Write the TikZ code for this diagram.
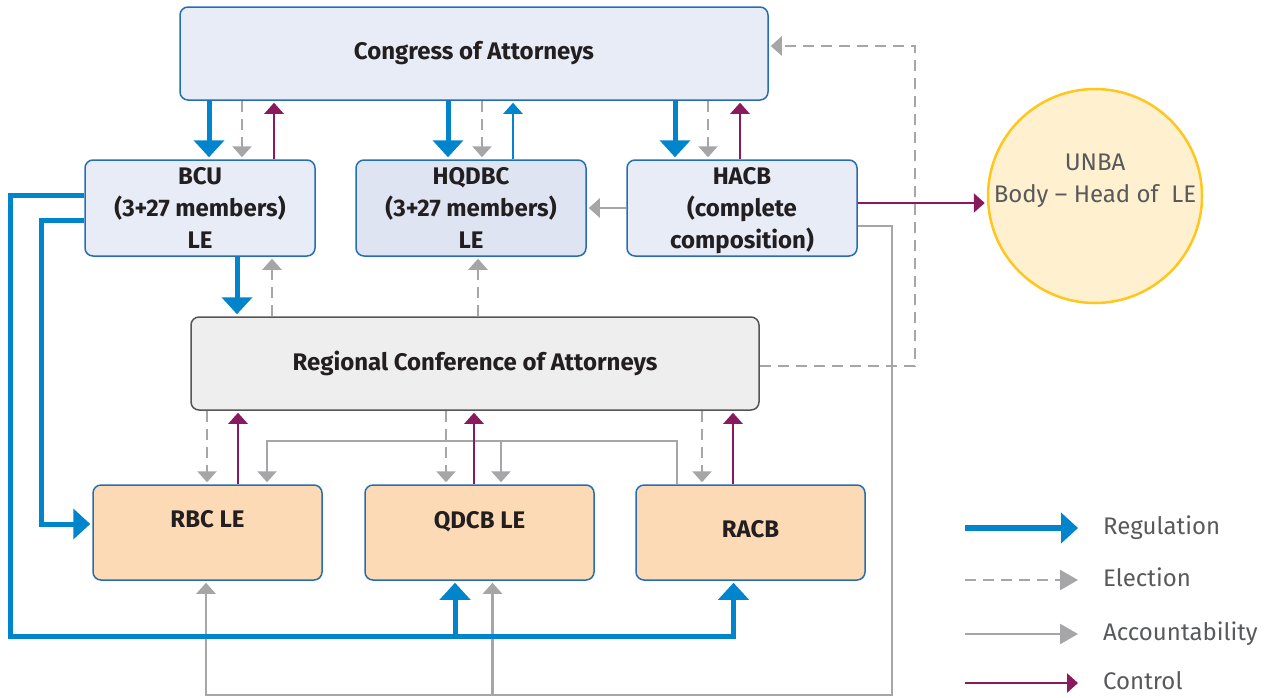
\documentclass[tikz,border=0pt]{standalone}
\usepackage{fontspec}
\setmainfont{Fira Sans}
\usepackage{xcolor}
\usetikzlibrary{arrows.meta}

\definecolor{regblue}{RGB}{0,133,204}
\definecolor{accgrey}{RGB}{166,166,169}
\definecolor{ctrlpurple}{RGB}{137,26,94}
\definecolor{boxblue}{RGB}{38,110,180}
\definecolor{topfill}{RGB}{232,236,246}
\definecolor{midfill}{RGB}{222,228,242}
\definecolor{rcafill}{RGB}{238,238,238}
\definecolor{rcaedge}{RGB}{85,85,85}
\definecolor{lowfill}{RGB}{252,218,181}
\definecolor{unbafill}{RGB}{255,241,208}
\definecolor{unbaedge}{RGB}{255,198,30}
\definecolor{legtext}{RGB}{88,89,91}
\definecolor{nodetext}{RGB}{35,31,32}

\begin{document}
\begin{tikzpicture}[x=1pt, y=-1pt,
        box/.style={draw=boxblue, line width=1.5pt, rounded corners=8pt, text=nodetext,
            font=\fontsize{24}{32}\selectfont\bfseries, align=center},
        topbox/.style={box, fill=topfill, minimum width=230pt, minimum height=96pt},
        lowbox/.style={box, fill=lowfill, minimum width=229pt, minimum height=95pt},
        reg/.style={draw=regblue, line width=5pt, shorten >=2pt, -{Triangle[width=30pt,length=17pt]}},
        regthin/.style={draw=regblue, line width=2.5pt, shorten >=2pt, -{Triangle[width=19pt,length=11pt]}},
        elect/.style={draw=accgrey, line width=2.5pt, dash pattern=on 11pt off 7pt, shorten >=2pt, -{Triangle[width=19pt,length=11pt]}},
        acc/.style={draw=accgrey, line width=2.5pt, shorten >=2pt, -{Triangle[width=19pt,length=11pt]}},
        ctrl/.style={draw=ctrlpurple, line width=2.5pt, shorten >=2pt, -{Triangle[width=19pt,length=11pt]}},
        bighead/.style={-{Triangle[width=20pt,length=18pt]}},
        legend/.style={text=legtext, font=\fontsize{24}{28}\selectfont, anchor=west,
            text height=17pt, text depth=5pt, inner sep=0pt}]
                \useasboundingbox (0,0) rectangle (1273,697);

                \node[box, fill=topfill, minimum width=588pt, minimum height=93pt] (cong) at (474,53.5) {Congress of Attorneys};
                \node[topbox] (bcu) at (200,208) {BCU\\(3+27 members)\\LE};
                \node[topbox, fill=midfill] (hqdbc) at (471,208) {HQDBC\\(3+27 members)\\LE};
                \node[topbox, text depth=0pt] (hacb) at (742,208) {HACB\\(complete\\composition)};
                \node[circle, draw=unbaedge, line width=2.5pt, fill=unbafill, minimum size=214pt, inner sep=0pt,
                    label={[text=legtext, font=\fontsize{24}{32}\selectfont, align=center, yshift=15pt]center:{UNBA\\Body – Head of\ \ LE}}] (unba) at (1095,196) {};
                \node[box, draw=rcaedge, fill=rcafill, minimum width=568pt, minimum height=93pt] (rca) at (475,363.5) {Regional Conference of Attorneys};
                \node[lowbox, text depth=27pt] (rbc) at (207.5,532.5) {RBC LE};
                \node[lowbox, text depth=25pt] (qdcb) at (479.5,532.5) {QDCB LE};
                \node[lowbox, text depth=8pt] (racb) at (750.5,532.5) {RACB};

                \draw[reg] ([xshift=-265pt]cong.south) -- ([xshift=9pt]bcu.north);
                \draw[elect] ([xshift=-232pt]cong.south) -- ([xshift=42pt]bcu.north);
                \draw[ctrl] ([xshift=74pt]bcu.north) -- ([xshift=-200pt]cong.south);
                \draw[reg] ([xshift=-26pt]cong.south) -- ([xshift=-23pt]hqdbc.north);
                \draw[elect] ([xshift=8pt]cong.south) -- ([xshift=11pt]hqdbc.north);
                \draw[regthin] ([xshift=42pt]hqdbc.north) -- ([xshift=39pt]cong.south);
                \draw[reg] ([xshift=201pt]cong.south) -- ([xshift=-67pt]hacb.north);
                \draw[elect] ([xshift=234pt]cong.south) -- ([xshift=-34pt]hacb.north);
                \draw[ctrl] ([xshift=-2pt]hacb.north) -- ([xshift=266pt]cong.south);

                \draw[reg] ([xshift=37pt]bcu.south) -- ([xshift=-238pt]rca.north);
                \draw[elect] ([xshift=-203pt]rca.north) -- ([xshift=72pt]bcu.south);
                \draw[elect] ([xshift=3pt]rca.north) -- ([xshift=7pt]hqdbc.south);
                \draw[acc] (hacb.west) -- (hqdbc.east);
                \draw[ctrl] ([yshift=5pt]hacb.east) -- ([yshift=-7pt]unba.west);
                \draw[elect] ([yshift=-2.5pt]rca.east) -| ([xshift=146pt,yshift=7.5pt]cong.east) -- ([yshift=7.5pt]cong.east);

                \draw[acc] ([yshift=-18pt]hacb.east) -- ++(34,0) -- ++(0,469) -| ([xshift=-1.5pt]rbc.south);
                \draw[acc] ([xshift=13pt,yshift=-115pt]qdcb.south) -- ([xshift=13pt]qdcb.south);
                \draw[acc] ([xshift=-73.5pt]racb.north) -- ++(0,-43.5) -| ([xshift=59.5pt]rbc.north);
                \draw[acc] ([xshift=21.5pt,yshift=43.5pt]qdcb.north) -- ([xshift=21.5pt]qdcb.north);

                \draw[elect] ([xshift=-268pt]rca.south) -- ([xshift=-0.5pt]rbc.north);
                \draw[ctrl] ([xshift=30.5pt]rbc.north) -- ([xshift=-237pt]rca.south);
                \draw[elect] ([xshift=-29pt]rca.south) -- ([xshift=-33.5pt]qdcb.north);
                \draw[ctrl] ([xshift=-5.5pt]qdcb.north) -- ([xshift=-1pt]rca.south);
                \draw[elect] ([xshift=227pt]rca.south) -- ([xshift=-48.5pt]racb.north);
                \draw[ctrl] ([xshift=-17.5pt]racb.north) -- ([xshift=258pt]rca.south);

                \draw[reg] ([yshift=13pt]bcu.west) -- ++(-74,0) -- ++(0,441) -| ([xshift=-17pt]racb.south);
                \draw[reg] ([xshift=-24.5pt,yshift=-56pt]qdcb.south) -- ([xshift=-24.5pt]qdcb.south);
                \draw[reg] ([yshift=-12pt]bcu.west) -- ++(-43,0) |- ([yshift=8.5pt]rbc.west);

                \node[legend] (lreg) at (1103,528) {Regulation};
                \node[legend] (lele) at (1103,580) {Election};
                \node[legend] (lacc) at (1103,634) {Accountability};
                \node[legend] (lctrl) at (1103,683) {Control};
                \draw[reg, line width=6pt] ([xshift=-138pt]lreg.west) -- ([xshift=-23pt]lreg.west);
                \draw[elect, bighead] ([xshift=-138pt]lele.west) -- ([xshift=-23pt]lele.west);
                \draw[acc, bighead] ([xshift=-138pt]lacc.west) -- ([xshift=-23pt]lacc.west);
                \draw[ctrl] ([xshift=-138pt]lctrl.west) -- ([xshift=-23pt]lctrl.west);
            \end{tikzpicture}
\end{document}
